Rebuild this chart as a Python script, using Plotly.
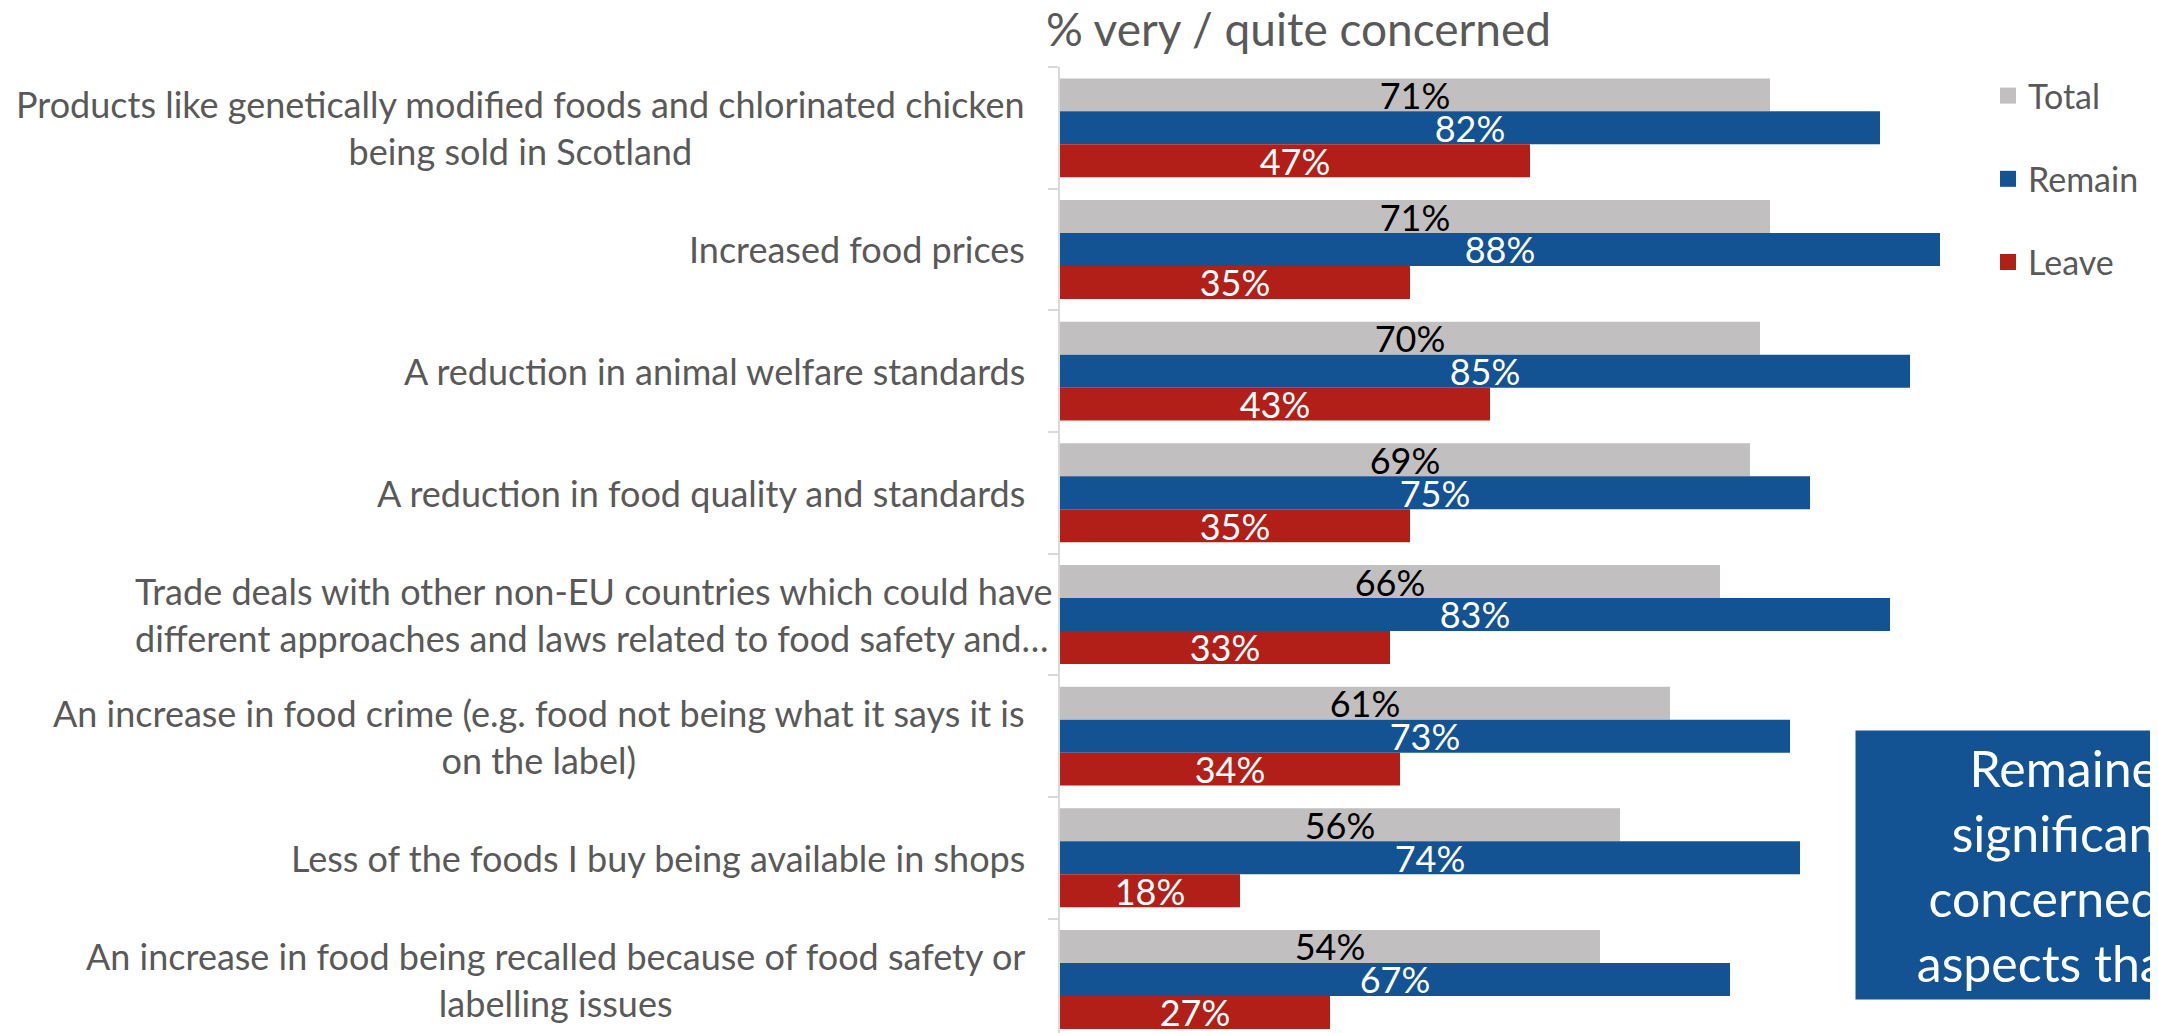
import plotly.graph_objects as go

categories = [
    "Products like genetically modified foods and chlorinated chicken<br>being sold in Scotland",
    "Increased food prices",
    "A reduction in animal welfare standards",
    "A reduction in food quality and standards",
    "Trade deals with other non-EU countries which could have<br>different approaches and laws related to food safety and…",
    "An increase in food crime (e.g. food not being what it says it is<br>on the label)",
    "Less of the foods I buy being available in shops",
    "An increase in food being recalled because of food safety or<br>labelling issues",
]
total = [71, 71, 70, 69, 66, 61, 56, 54]
remain = [82, 88, 85, 75, 83, 73, 74, 67]
leave = [47, 35, 43, 35, 33, 34, 18, 27]

series = [
    ("Total", total, "#C1BFC0", "#000000"),
    ("Remain", remain, "#135293", "#FFFFFF"),
    ("Leave", leave, "#B21F18", "#FFFFFF"),
]

FONT = "Lato"
GREY_TEXT = "#595959"

# the page body adds an 8px margin, so the figure is 8px smaller each way
W, H = 2150, 1025

fig = go.Figure()
for name, vals, color, txt in series:
    fig.add_trace(go.Bar(
        name=name,
        x=vals,
        y=categories,
        orientation="h",
        marker=dict(color=color, line=dict(width=0)),
        texttemplate="%{x}%",
        textposition="inside",
        insidetextanchor="middle",
        constraintext="none",
        textfont=dict(family=FONT, size=36, color=txt),
        cliponaxis=False,
        showlegend=False,
    ))

# legend entries with bigger square swatches than the bar default
for name, _, color, _ in series:
    fig.add_trace(go.Scatter(
        name=name, x=[None], y=[None], mode="markers",
        marker=dict(symbol="square", size=22, color=color),
        legendgroup=name, showlegend=True,
    ))

# category labels (centred multi-line blocks, right aligned to the axis)
for cat in categories:
    trade = cat.startswith("Trade deals")
    fig.add_annotation(
        x=0, xref="paper", y=cat, yref="y",
        text=cat, showarrow=False,
        xanchor="right", yanchor="middle",
        align="left" if trade else "center",
        xshift=-33 + (28 if trade else 0),
        font=dict(family=FONT, size=36, color=GREY_TEXT),
    )

# call-out box, partly off the page
fig.add_annotation(
    x=(1847 - 1052) / 1000, xref="paper", y=(1025 - 722) / 966, yref="paper",
    xanchor="left", yanchor="top",
    text="Remainers were<br>significantly more<br>concerned about all<br>aspects than Leavers",
    showarrow=False, align="center", width=560, height=252,
    bgcolor="#135293", borderpad=8,
    font=dict(family=FONT, size=50, color="#FFFFFF"),
)

fig.update_layout(
    width=W, height=H,
    margin=dict(l=1052, r=98, t=59, b=0),
    plot_bgcolor="white", paper_bgcolor="white",
    barmode="group", bargap=0.187, bargroupgap=0,
    title=dict(
        text="% very / quite concerned",
        x=1038 / W, xref="container", xanchor="left",
        y=1 - 22 / H, yref="container", yanchor="middle",
        font=dict(family=FONT, size=46, color=GREY_TEXT),
    ),
    legend=dict(
        x=0.928, xanchor="left", y=1.0, yanchor="top",
        font=dict(family=FONT, size=34, color=GREY_TEXT),
        tracegroupgap=36, bgcolor="rgba(0,0,0,0)",
    ),
    font=dict(family=FONT, color=GREY_TEXT),
)
fig.update_xaxes(range=[0, 100], visible=False, fixedrange=True)
fig.update_yaxes(
    categoryorder="array", categoryarray=categories,
    range=[7.44, -0.5],
    showticklabels=False, showgrid=False,
    showline=True, linecolor="#D9D9D9", linewidth=2,
    ticks="outside", tickson="boundaries", ticklen=10, tickcolor="#D9D9D9", tickwidth=2,
    zeroline=False,
)

fig.write_html("out.html")
